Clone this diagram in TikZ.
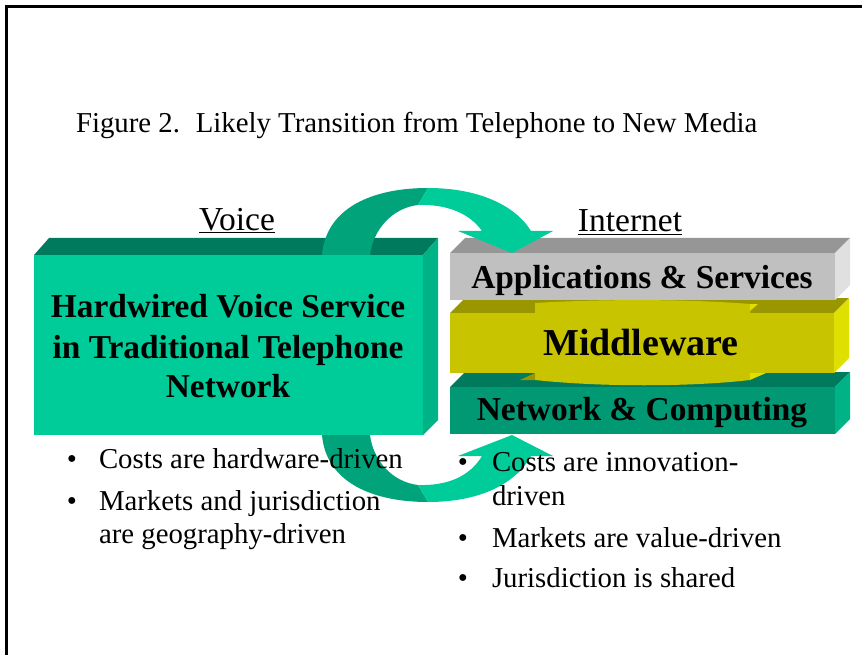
\documentclass[tikz,border=0pt]{standalone}
\usepackage{fontspec}
\setmainfont{Liberation Serif}
\definecolor{tealfront}{RGB}{0,204,153}
\definecolor{tealtop}{RGB}{0,122,92}
\definecolor{tealside}{RGB}{0,179,134}
\definecolor{arrowdark}{RGB}{0,163,122}
\definecolor{netfront}{RGB}{0,153,115}
\definecolor{grayfront}{RGB}{192,192,192}
\definecolor{graytop}{RGB}{150,150,150}
\definecolor{grayside}{RGB}{224,224,224}
\definecolor{yelfront}{RGB}{200,196,0}
\definecolor{yeltop}{RGB}{153,150,0}
\definecolor{yelside}{RGB}{224,224,0}
\tikzset{
  txt/.style={font=\fontsize{28.8}{34}\selectfont, inner sep=0pt, outer sep=0pt},
  head/.style={font=\fontsize{33.5}{40}\selectfont, inner sep=0pt, outer sep=0pt},
  boxtxt/.style={font=\fontsize{33.4}{40}\selectfont\bfseries, inner sep=0pt, outer sep=0pt},
  bigtxt/.style={font=\fontsize{38}{44}\selectfont\bfseries, inner sep=0pt, outer sep=0pt},
}
\begin{document}
\begin{tikzpicture}[x=1pt,y=-1pt]
\useasboundingbox (0,0) rectangle (862,655);
\fill[white] (0,0) rectangle (862,655);
\draw[line width=2.2pt] (862,6.5) -- (6.5,6.5) -- (6.5,655);

% left box: top and side faces
\fill[tealtop] (34,255) -- (49,238) -- (438,238) -- (423,255) -- cycle;
\fill[tealside] (423,255) -- (438,238) -- (438,420) -- (423,435) -- cycle;

% network & computing layer
\fill[tealtop] (450,387) -- (465,372) -- (850,372) -- (835,387) -- cycle;
\fill[tealside] (835,387) -- (850,372) -- (850,419) -- (835,434) -- cycle;
\fill[netfront] (450,387) rectangle (835,434);

% middleware layer
\fill[yeltop] (450,313) -- (465,298) -- (849,298) -- (834,313) -- cycle;
\fill[yelside] (834,313) -- (849,298) -- (849,358) -- (834,373) -- cycle;
\fill[yelfront] (450,313) rectangle (834,373);
\fill[yelfront] (535,314) -- (535,303) .. controls (600,299) and (690,299) .. (750,304) -- (750,314) -- cycle;
\fill[yelside] (750,304) -- (758,304) -- (750,311) -- cycle;
\fill[yelfront] (535,372) -- (535,380) .. controls (600,387) and (690,387) .. (750,380) -- (750,372) -- cycle;
\fill[yeltop] (520,380) -- (535,373) -- (535,380) -- cycle;
\fill[yelside] (750,373) -- (766,373) -- (750,380) -- cycle;

% applications layer
\fill[graytop] (450,253) -- (465,238) -- (850,238) -- (835,253) -- cycle;
\fill[grayside] (835,253) -- (850,238) -- (850,285) -- (835,300) -- cycle;
\fill[grayfront] (450,253) rectangle (835,300);

% top curved arrow
\fill[arrowdark] (322,255) .. controls (326,208) and (372,188) .. (428,188)
  -- (418,205) .. controls (392,208) and (373,230) .. (370,255) -- cycle;
\fill[tealfront] (428,188) .. controls (478,188) and (515,205) .. (531,231)
  -- (553,231) -- (512,253) -- (458,231) -- (482,231)
  .. controls (470,214) and (448,204) .. (418,205) -- cycle;

% bottom curved arrow
\fill[arrowdark] (322,435) .. controls (326,482) and (372,502) .. (428,502)
  -- (418,485) .. controls (392,482) and (373,460) .. (370,435) -- cycle;
\fill[tealfront] (428,502) .. controls (478,502) and (515,485) .. (531,456)
  -- (553,456) -- (512,435) -- (458,456) -- (482,456)
  .. controls (470,476) and (448,486) .. (418,485) -- cycle;

% left box front face
\fill[tealfront] (34,255) rectangle (423,435);

% texts
\node[txt, anchor=base west] (title) at (76,133) {Figure 2.\hspace{0.55em}Likely Transition from Telephone to New Media};
\node[head, anchor=base] (voice) at (237,230) {\underline{Voice}};
\node[head, anchor=base] (internet) at (630,232) {\underline{Internet}};

\node[boxtxt, anchor=base] (hw1) at (228,317) {Hardwired Voice Service};
\node[boxtxt, anchor=base] (hw2) at (228,358) {in Traditional Telephone};
\node[boxtxt, anchor=base] (hw3) at (228,397) {Network};

\node[boxtxt, anchor=base] (apps) at (642,288) {Applications \& Services};
\node[bigtxt, anchor=base] (mid) at (641,355) {Middleware};
\node[boxtxt, anchor=base] (net) at (642,420) {Network \& Computing};

\node[txt, anchor=base] (lb1) at (72,468) {•};
\node[txt, anchor=base west] (lt1) at (99,468) {Costs are hardware-driven};
\node[txt, anchor=base] (lb2) at (72,510) {•};
\node[txt, anchor=base west] (lt2) at (99,510) {Markets and jurisdiction};
\node[txt, anchor=base west] (lt3) at (99,543) {are geography-driven};

\node[txt, anchor=base] (rb1) at (463,471) {•};
\node[txt, anchor=base west] (rt1) at (492,471) {Costs are innovation-};
\node[txt, anchor=base west] (rt2) at (492,505) {driven};
\node[txt, anchor=base] (rb2) at (463,547) {•};
\node[txt, anchor=base west] (rt3) at (492,547) {Markets are value-driven};
\node[txt, anchor=base] (rb3) at (463,587) {•};
\node[txt, anchor=base west] (rt4) at (492,587) {Jurisdiction is shared};
\end{tikzpicture}
\end{document}
